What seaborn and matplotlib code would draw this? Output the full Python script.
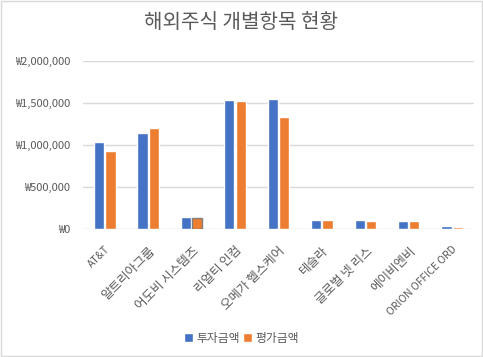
import matplotlib
matplotlib.use("Agg")
import matplotlib.pyplot as plt
import matplotlib.ticker as mticker
import seaborn as sns
import pandas as pd
from matplotlib.patches import Rectangle

stocks = ["AT&T", "알트리아그룹", "어도비 시스템즈", "리얼티 인컴", "오메가 헬스케어",
          "테슬라", "글로벌 넷 리스", "에이비엔비", "ORION OFFICE ORD"]
invest = [1036000, 1143000, 143000, 1536000, 1548000, 107000, 107000, 95000, 36000]
value = [929000, 1202000, 127000, 1524000, 1333000, 107000, 95000, 95000, 24000]
series = ["투자금액", "평가금액"]
y_ticks = [0, 500000, 1000000, 1500000, 2000000]

df = pd.DataFrame({
    "종목": stocks * 2,
    "금액": invest + value,
    "구분": [series[0]] * len(stocks) + [series[1]] * len(stocks),
})

sns.set_theme(style="white")
plt.rcParams["font.family"] = ["Noto Sans CJK KR", "DejaVu Sans"]
gray = "#595959"

fig = plt.figure(figsize=(4.83, 3.57), dpi=100)
ax = fig.add_axes([0.172, 0.359, 0.809, 0.47])

sns.barplot(data=df, x="종목", y="금액", hue="구분",
            palette=["#4472C4", "#ED7D31"], width=0.52, gap=0.1,
            saturation=1, ax=ax, legend=True)

# the selected bar in the original has a gray outline
ax.patches[len(stocks) + 2].set_edgecolor("#7F7F7F")
ax.patches[len(stocks) + 2].set_linewidth(1.0)

ax.set_ylim(0, 2000000)
ax.set_yticks(y_ticks)
ax.yaxis.set_major_formatter(mticker.FuncFormatter(lambda v, p: f"₩{v:,.0f}"))
ax.set_xlim(-0.5, len(stocks) - 0.5)
ax.grid(axis="y", color="#D9D9D9", linewidth=1)
ax.set_axisbelow(True)
for s in ax.spines.values():
    s.set_visible(False)
ax.set_xlabel("")
ax.set_ylabel("")
ax.tick_params(axis="y", labelsize=8, colors=gray, length=0, pad=9)
ax.tick_params(axis="x", labelsize=7.5, colors=gray, length=0, pad=11)
for lbl in ax.get_xticklabels():
    lbl.set_rotation(45)
    lbl.set_ha("right")
    lbl.set_rotation_mode("anchor")
    # Korean glyphs look bigger in the original
    if not lbl.get_text().isascii():
        lbl.set_fontsize(9)

fig.text(0.5, 0.936, "해외주식 개별항목 현황", ha="center", va="center",
         fontsize=14.5, color=gray)

ax.legend_.remove()
handles, labels = ax.get_legend_handles_labels()
fig.legend(handles, labels, loc="center", bbox_to_anchor=(0.5, 0.053), ncol=2,
           frameon=False, fontsize=8.5, labelcolor=gray, handlelength=0.7,
           handleheight=0.7, handletextpad=0.3, columnspacing=0.3)

fig.patches.append(Rectangle((0.002, 0.002), 0.995, 0.995, transform=fig.transFigure,
                             fill=False, edgecolor="#D9D9D9", linewidth=1))

fig.savefig("out.png", dpi=100)
